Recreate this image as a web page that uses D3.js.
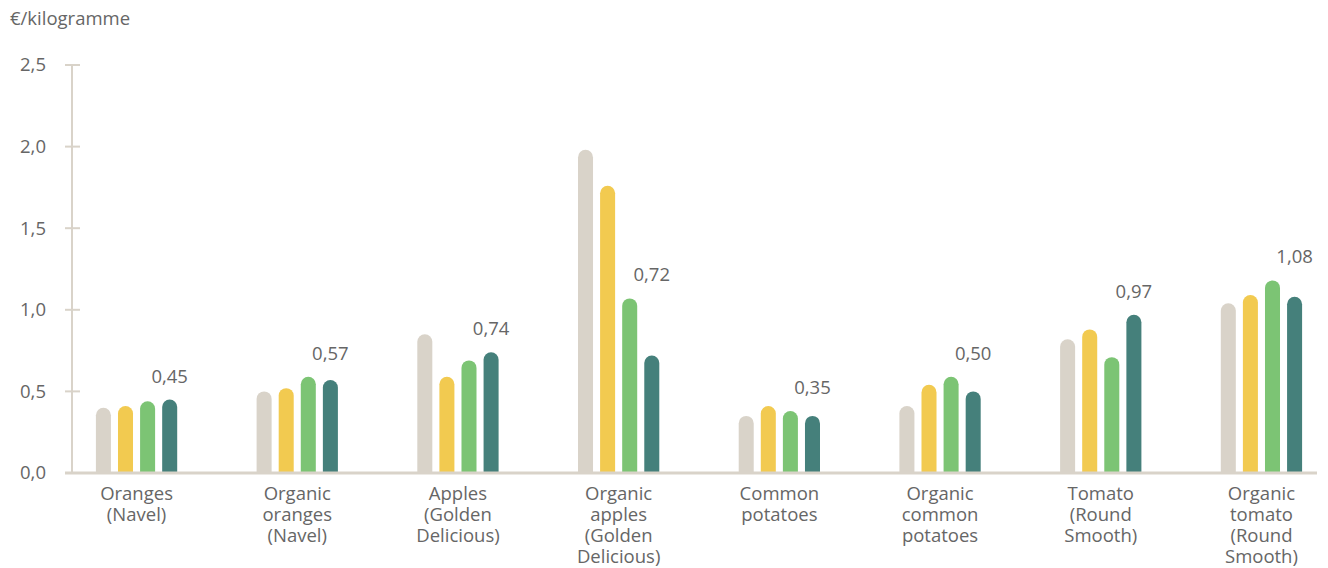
<!DOCTYPE html>
<html>
<head>
<meta charset="utf-8">
<script src="https://cdn.jsdelivr.net/npm/d3@7/dist/d3.min.js"></script>
<style>
  html, body { margin: 0; padding: 0; background: #ffffff; }
  svg { display: block; }
  text { font-family: "Open Sans", "Noto Sans", sans-serif; fill: #666666; }
</style>
</head>
<body>
<svg id="chart" width="1328" height="568"></svg>
<script>
const categories = [
  ["Oranges", "(Navel)"],
  ["Organic", "oranges", "(Navel)"],
  ["Apples", "(Golden", "Delicious)"],
  ["Organic", "apples", "(Golden", "Delicious)"],
  ["Common", "potatoes"],
  ["Organic", "common", "potatoes"],
  ["Tomato", "(Round", "Smooth)"],
  ["Organic", "tomato", "(Round", "Smooth)"]
];
const seriesNames = ["s1", "s2", "s3", "s4"];
const series1 = [0.40, 0.50, 0.85, 1.98, 0.35, 0.41, 0.82, 1.04];
const series2 = [0.41, 0.52, 0.59, 1.76, 0.41, 0.54, 0.88, 1.09];
const series3 = [0.44, 0.59, 0.69, 1.07, 0.38, 0.59, 0.71, 1.18];
const series4 = [0.45, 0.57, 0.74, 0.72, 0.35, 0.50, 0.97, 1.08];
const labelValues = ["0,45", "0,57", "0,74", "0,72", "0,35", "0,50", "0,97", "1,08"];
const yTicks = [0, 0.5, 1.0, 1.5, 2.0, 2.5];
const yTickLabels = ["0,0", "0,5", "1,0", "1,5", "2,0", "2,5"];
const colors = ["#d9d3c9", "#f2ca50", "#7cc474", "#45807b"];
const yTitle = "€/kilogramme";

const allSeries = [series1, series2, series3, series4];
const svg = d3.select("#chart");
const fs = "18.5px";

const y = d3.scaleLinear().domain([0, 2.5]).range([473, 65]);
const catIdx = categories.map((d, i) => i);
const x0 = d3.scaleBand().domain(catIdx).range([56.2, 1341.8]).padding(0);
const x1 = d3.scaleBand().domain(seriesNames).range([-40.65, 40.65]).paddingInner(0.32).paddingOuter(0);

// y title
svg.append("text").attr("x", 10).attr("y", 25).style("font-size", fs).text(yTitle);

// axis line (vertical)
svg.append("line").attr("x1", 72).attr("x2", 72).attr("y1", y(2.5)).attr("y2", y(0))
  .attr("stroke", "#d9d3c9").attr("stroke-width", 2);

// ticks
const tickG = svg.append("g");
yTicks.forEach((t, i) => {
  if (t > 0) {
    tickG.append("line").attr("x1", 65).attr("x2", 80).attr("y1", y(t)).attr("y2", y(t))
      .attr("stroke", "#d9d3c9").attr("stroke-width", 2);
  }
  tickG.append("text").attr("x", 46).attr("y", y(t)).attr("dy", "0.35em")
    .attr("text-anchor", "end").style("font-size", fs).text(yTickLabels[i]);
});

// bars
function barPath(xl, w, yt, yb) {
  const r = w / 2;
  return `M${xl},${yb} L${xl},${yt + r} A${r},${r} 0 0 1 ${xl + w},${yt + r} L${xl + w},${yb} Z`;
}
const groups = svg.append("g").selectAll("g").data(catIdx).join("g")
  .attr("transform", i => `translate(${x0(i) + x0.bandwidth() / 2},0)`);
groups.selectAll("path").data(i => seriesNames.map((s, k) => ({k, v: allSeries[k][i]})))
  .join("path")
  .attr("d", d => barPath(x1(seriesNames[d.k]), x1.bandwidth(), y(d.v), y(0)))
  .attr("fill", d => colors[d.k]);

// baseline
svg.append("line").attr("x1", 65).attr("x2", 1317).attr("y1", y(0)).attr("y2", y(0))
  .attr("stroke", "#d9d3c9").attr("stroke-width", 3);

// value labels
groups.append("text")
  .attr("x", x1("s4") + x1.bandwidth() / 2)
  .attr("y", i => y(Math.max(series3[i], series4[i])) - 17)
  .attr("text-anchor", "middle").style("font-size", fs)
  .text(i => labelValues[i]);

// category labels
groups.append("text").attr("text-anchor", "middle").style("font-size", fs)
  .selectAll("tspan").data(i => categories[i]).join("tspan")
  .attr("x", 0).attr("y", (d, j) => 499.5 + j * 21.3).text(d => d);
</script>
</body>
</html>
